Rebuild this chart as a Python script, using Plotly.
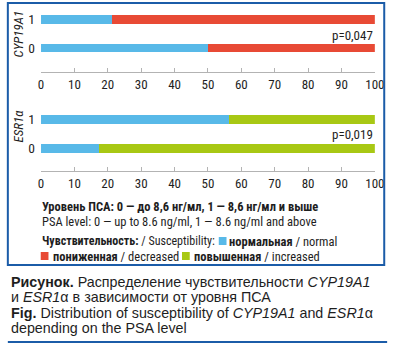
import plotly.graph_objects as go

W, H = 401, 346

# ---------------- data ----------------
psa_levels = [0, 1]
psa_labels = ["0", "1"]
cyp_normal = [50.0, 21.3]
cyp_decreased = [50.0, 78.7]
esr_normal = [17.5, 56.2]
esr_increased = [82.5, 43.8]
x_ticks = list(range(0, 101, 10))
p_values = ["p=0,047", "p=0,019"]
gene_names = ["<i>CYP19A1</i>", "<i>ESR1α</i>"]

C_NORMAL = "#58b9e8"
C_DECR = "#e84a35"
C_INCR = "#a8c814"
C_FRAME = "#1b5ca8"
AX_COL = "#b3b3b3"
TXT = "#1e1e1e"

COND = "Roboto Condensed, Roboto, Liberation Sans, Arial, sans-serif"
REG = "Liberation Sans, Arial, sans-serif"

def px(x):
    return x / W

def py(y):
    return 1 - y / H

fig = go.Figure()
bw = 0.31
fig.add_trace(go.Bar(y=psa_levels, x=cyp_normal, orientation="h", marker_color=C_NORMAL,
                     width=bw, name="нормальная / normal", xaxis="x", yaxis="y"))
fig.add_trace(go.Bar(y=psa_levels, x=cyp_decreased, orientation="h", marker_color=C_DECR,
                     width=bw, name="пониженная / decreased", xaxis="x", yaxis="y"))
fig.add_trace(go.Bar(y=psa_levels, x=esr_normal, orientation="h", marker_color=C_NORMAL,
                     width=bw, name="нормальная / normal", xaxis="x2", yaxis="y2"))
fig.add_trace(go.Bar(y=psa_levels, x=esr_increased, orientation="h", marker_color=C_INCR,
                     width=bw, name="повышенная / increased", xaxis="x2", yaxis="y2"))
for t in fig.data:
    t.marker.line.width = 0

xaxis_common = dict(range=[0, 100], tickvals=x_ticks, ticks="inside", ticklen=4,
                    tickcolor=AX_COL, showline=True, linecolor=AX_COL, linewidth=1,
                    showgrid=False, zeroline=False, fixedrange=True,
                    tickfont=dict(family=COND, size=13, color=TXT))
yaxis_common = dict(range=[-0.83, 1.52], tickvals=psa_levels, ticktext=psa_labels,
                    showgrid=False, zeroline=False, showline=False, ticks="",
                    ticklabelstandoff=5,
                    tickfont=dict(family=COND, size=13.5, color=TXT))

fig.update_layout(
    width=W, height=H, margin=dict(l=0, r=0, t=0, b=0),
    paper_bgcolor="white", plot_bgcolor="white",
    barmode="stack", showlegend=False,
    xaxis=dict(domain=[px(39.3), px(384.3)], anchor="y", **xaxis_common),
    yaxis=dict(domain=[py(72), py(4)], anchor="x", **yaxis_common),
    xaxis2=dict(domain=[px(39.3), px(384.3)], anchor="y2", **xaxis_common),
    yaxis2=dict(domain=[py(171), py(104)], anchor="x2", **{**yaxis_common, "range": [-0.79, 1.52]}),
)

ann = []

def add(x, y, s, font, xanchor="left", angle=0):
    ann.append(dict(x=px(x), y=py(y), text=s, showarrow=False, xanchor=xanchor, yanchor="middle",
                    textangle=angle, xref="paper", yref="paper", font=font))

GF = dict(family=COND, size=13, color=TXT)
# gene labels
add(16, 34, gene_names[0], GF, "center", -90)
add(16, 126, gene_names[1], GF, "center", -90)
# p-values
add(384.5, 35, p_values[0], GF, "right")
add(384.5, 134, p_values[1], GF, "right")

LF = dict(family=COND, size=12.5, color=TXT)
LF2 = dict(family=COND, size=12, color=TXT)
add(38, 206, "<b>Уровень ПСА: 0 — до 8,6 нг/мл, 1 — 8,6 нг/мл и выше</b>", LF)
add(38, 221, "PSA level: 0 — up to 8.6 ng/ml, 1 — 8.6 ng/ml and above", LF)
add(38, 241, "<b>Чувствительность:</b> / Susceptibility:", LF2)
add(232, 241, "<b>нормальная</b> / normal", LF)
add(50, 256, "<b>пониженная</b> / decreased", LF)
add(195, 256, "<b>повышенная</b> / increased", LF)

CF = dict(family=REG, size=14.3, color=TXT)
add(6, 282, "<b>Рисунок.</b> Распределение чувствительности <i>CYP19A1</i>", CF)
add(6, 297, "и <i>ESR1</i>α в зависимости от уровня ПСА", CF)
add(6, 313, "<b>Fig.</b> Distribution of susceptibility of <i>CYP19A1</i> and <i>ESR1</i>α", CF)
add(6, 328, "depending on the PSA level", CF)

fig.update_layout(annotations=ann)

shapes = [
    dict(type="rect", xref="paper", yref="paper", x0=px(5), x1=px(394), y0=py(265), y1=py(3),
         line=dict(color=C_FRAME, width=2)),
    dict(type="line", xref="paper", yref="paper", x0=px(5), x1=px(397), y0=py(342), y1=py(342),
         line=dict(color=C_FRAME, width=2)),
]
for (x0, y0, c) in [(223, 241, C_NORMAL), (39, 256, C_DECR), (185, 256, C_INCR)]:
    shapes.append(dict(type="rect", xref="paper", yref="paper", x0=px(x0), x1=px(x0 + 8),
                       y0=py(y0 + 4), y1=py(y0 - 4), fillcolor=c, line=dict(width=0)))
fig.update_layout(shapes=shapes)

fig.write_html("out.html")
